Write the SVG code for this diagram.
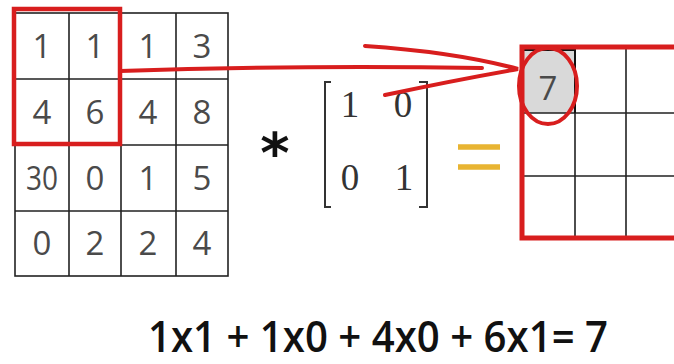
<svg xmlns="http://www.w3.org/2000/svg" width="674" height="364" viewBox="0 0 674 364">
<style>
.g{fill:none;stroke:#222;stroke-width:1.6}
.d{font-family:"Open Sans","Liberation Sans",sans-serif;font-size:33px;fill:#4a4a4a;text-anchor:middle;font-weight:400}
.m{font-family:"Liberation Serif",serif;font-size:37px;fill:#333;text-anchor:middle}
.r{fill:none;stroke:#d81e1e;stroke-linecap:round}
</style>
<rect width="674" height="364" fill="#fff"/>
<g id="input-grid">
<rect class="g" x="15" y="13" width="213" height="263" fill="#fff"/>
<path class="g" d="M69,13V276M121,13V276M176,13V276M15,79H228M15,145H228M15,211H228"/>
<g class="d">
<text x="42" y="58">1</text><text x="95" y="58">1</text><text x="148" y="58">1</text><text x="202" y="58">3</text>
<text x="42" y="124">4</text><text x="95" y="124">6</text><text x="148" y="124">4</text><text x="202" y="124">8</text>
<text x="42" y="190" textLength="32" lengthAdjust="spacingAndGlyphs">30</text><text x="95" y="190">0</text><text x="148" y="190">1</text><text x="202" y="190">5</text>
<text x="42" y="255">0</text><text x="95" y="255">2</text><text x="148" y="255">2</text><text x="202" y="255">4</text>
</g>
<rect class="r" x="14" y="9" width="106" height="135" stroke-width="4.5" stroke-linecap="butt"/>
</g>
<g id="operator"><text x="275" y="172" font-family="DejaVu Sans,sans-serif" font-size="56" font-weight="bold" text-anchor="middle" fill="#111">*</text></g>
<g id="kernel">
<path d="M331,82H325V207H331M419,82H427V207H419" fill="none" stroke="#333" stroke-width="2"/>
<g class="m">
<text x="350" y="117">1</text><text x="403" y="117">0</text>
<text x="350" y="190">0</text><text x="404" y="190">1</text>
</g>
</g>
<g id="equals"><path d="M458,147H500M458,167H500" stroke="#e8b432" stroke-width="5.5"/></g>
<g id="output-grid">
<rect x="523" y="49" width="52" height="64" fill="#d9d9d9"/>
<path class="g" d="M575,47V238M626,47V238M522,113H674M522,176H674"/>
<path d="M523,50H575V113" fill="none" stroke="#111" stroke-width="2"/>
<text x="548" y="100" class="d" font-size="32">7</text>
<rect class="r" x="522" y="47" width="170" height="191" stroke-width="5" stroke-linecap="butt"/>
<ellipse class="r" cx="548" cy="86" rx="29" ry="38" stroke-width="4"/>
</g>
<g id="connectors">
<path class="r" d="M120,71Q300,65 482,68" stroke-width="4"/>
<path class="r" d="M365,46Q455,52 518,69Q455,80 385,95" stroke-width="4"/>
</g>
<g id="equation"><text x="148" y="352" font-family="Open Sans,Liberation Sans,sans-serif" font-size="43" font-weight="600" fill="#111" textLength="460" lengthAdjust="spacingAndGlyphs">1x1 + 1x0 + 4x0 + 6x1= 7</text></g>
</svg>
